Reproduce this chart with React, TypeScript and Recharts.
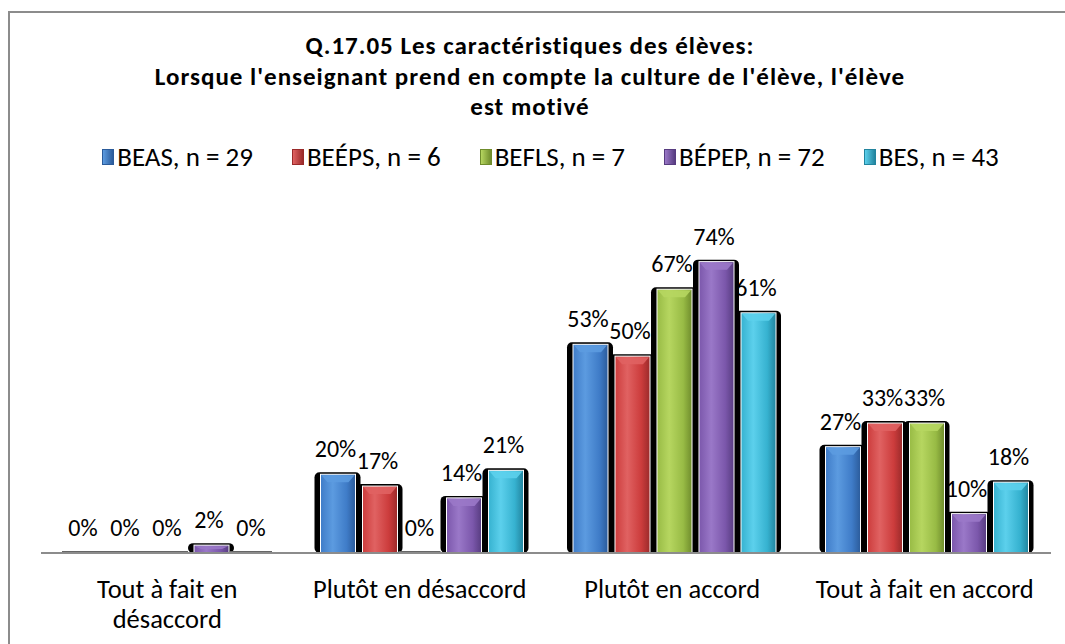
// Q.17.05 — grouped bevel bars (recharts), five programmes × four answers.
import { Bar, BarChart, LabelList, Legend, XAxis, YAxis } from "recharts";

const CATEGORIES = ["Tout à fait en désaccord", "Plutôt en désaccord", "Plutôt en accord", "Tout à fait en accord"];
const CATEGORY_LINES = [["Tout à fait en", "désaccord"], ["Plutôt en désaccord"], ["Plutôt en accord"], ["Tout à fait en accord"]];
const SERIES = ["BEAS, n = 29", "BEÉPS, n = 6", "BEFLS, n = 7", "BÉPEP, n = 72", "BES, n = 43"];
const BEAS = [0, 20, 53, 27];
const BEEPS = [0, 17, 50, 33];
const BEFLS = [0, 0, 67, 33];
const BEPEP = [2, 14, 74, 10];
const BES = [0, 21, 61, 18];
const VALUES = [BEAS, BEEPS, BEFLS, BEPEP, BES];
const TITLE = [
  "Q.17.05 Les caractéristiques des élèves:",
  "Lorsque l'enseignant prend en compte la culture de l'élève, l'élève",
  "est motivé",
];

// light, base, dark
const COLORS = [
  ["#5c9be0", "#3f7cc8", "#2b5b9a"],
  ["#e06262", "#cc3c3c", "#9a2a2a"],
  ["#b6d660", "#98bb45", "#6f8c2c"],
  ["#9a78c8", "#7b57ab", "#573c80"],
  ["#5cd0ec", "#36b2d0", "#22849e"],
];

const FONT = "Carlito, Calibri, Lato, sans-serif";

const data = CATEGORIES.map((name, i) => {
  const row: Record<string, string | number> = { name };
  VALUES.forEach((v, s) => (row["s" + s] = v[i]));
  return row;
});

function makeShape(si: number) {
  return (p: any) => {
    const { x, y, width, height } = p;
    const [light] = COLORS[si];
    if (!height || height < 1) {
      return <rect x={x} y={y - 2} width={width} height={2} fill="#666" />;
    }
    const cx = x + 6;
    const cw = width - 7;
    const bev = Math.min(8, height / 2);
    return (
      <g>
        <rect x={x} y={y - 2} width={width + 4} height={height + 2} rx={5} fill="#000" />
        <rect x={cx} y={y} width={cw} height={height} fill={`url(#grad${si})`} stroke="#fff" strokeWidth={1} />
        <polygon
          points={`${cx + 1},${y + 1} ${cx + cw - 1},${y + 1} ${cx + cw - 7},${y + bev} ${cx + 7},${y + bev}`}
          fill={light}
          opacity={0.9}
        />
      </g>
    );
  };
}

function CategoryTick({ x, y, payload }: any) {
  const lines = CATEGORY_LINES[CATEGORIES.indexOf(payload.value)] || [payload.value];
  return (
    <text x={x} y={y} textAnchor="middle" fontFamily={FONT} fontSize={26.5} fill="#000">
      {lines.map((l, i) => (
        <tspan key={i} x={x} dy={i === 0 ? 45 : 30}>{l}</tspan>
      ))}
    </text>
  );
}

function LegendContent() {
  return (
    <div style={{
      display: "flex", justifyContent: "center", gap: 39, paddingLeft: 36,
      fontFamily: FONT, fontSize: 27, color: "#000", lineHeight: "30px",
    }}>
      {SERIES.map((s, i) => (
        <div key={s} style={{ display: "flex", alignItems: "center", gap: 3 }}>
          <span style={{
            display: "inline-block", width: 10, height: 14,
            background: `linear-gradient(90deg, ${COLORS[i][0]}, ${COLORS[i][2]})`,
            border: `1px solid ${COLORS[i][2]}`,
          }} />
          <span>{s}</span>
        </div>
      ))}
    </div>
  );
}

export default function App() {
  return (
    <div style={{ position: "fixed", left: 0, top: 0, width: 1065, height: 644, overflow: "hidden", background: "#fff" }}>
      <div style={{
        position: "absolute", left: 8, top: 11, width: 1200, height: 800,
        borderLeft: "2px solid #8c8c8c", borderTop: "2px solid #8c8c8c", boxSizing: "border-box",
      }} />
      <div style={{
        position: "absolute", left: 0, top: 31, width: 1060, textAlign: "center",
        fontFamily: FONT, fontWeight: 700, fontSize: 25, letterSpacing: 1, lineHeight: "30.5px", color: "#000",
      }}>
        {TITLE.map((t) => <div key={t}>{t}</div>)}
      </div>
      <div style={{ position: "absolute", left: 0, top: 0 }}>
        <BarChart
          width={1065}
          height={644}
          data={data}
          margin={{ top: 208, right: 14, bottom: 31, left: 41 }}
          barCategoryGap={21}
          barGap={0}
        >
          <defs>
            {COLORS.map((c, i) => (
              <linearGradient key={i} id={`grad${i}`} x1="0" y1="0" x2="1" y2="0">
                <stop offset="0%" stopColor={c[1]} />
                <stop offset="35%" stopColor={c[0]} />
                <stop offset="75%" stopColor={c[1]} />
                <stop offset="100%" stopColor={c[2]} />
              </linearGradient>
            ))}
          </defs>
          <XAxis
            dataKey="name"
            axisLine={{ stroke: "#8c8c8c", strokeWidth: 2 }}
            tickLine={false}
            tickSize={0}
            tickMargin={0}
            height={60}
            interval={0}
            tick={<CategoryTick />}
          />
          <YAxis hide domain={[0, 80]} />
          <Legend
            verticalAlign="top"
            content={<LegendContent />}
            wrapperStyle={{ position: "absolute", top: 142, left: 0, width: 1065 }}
          />
          {SERIES.map((s, i) => (
            <Bar key={s} dataKey={"s" + i} name={s} fill={COLORS[i][1]} shape={makeShape(i)} isAnimationActive={false}>
              <LabelList
                dataKey={"s" + i}
                position="top"
                offset={17}
                formatter={(v: any) => `${v}%`}
                style={{ fontFamily: FONT, fontSize: 24, fill: "#000" }}
              />
            </Bar>
          ))}
        </BarChart>
      </div>
    </div>
  );
}
